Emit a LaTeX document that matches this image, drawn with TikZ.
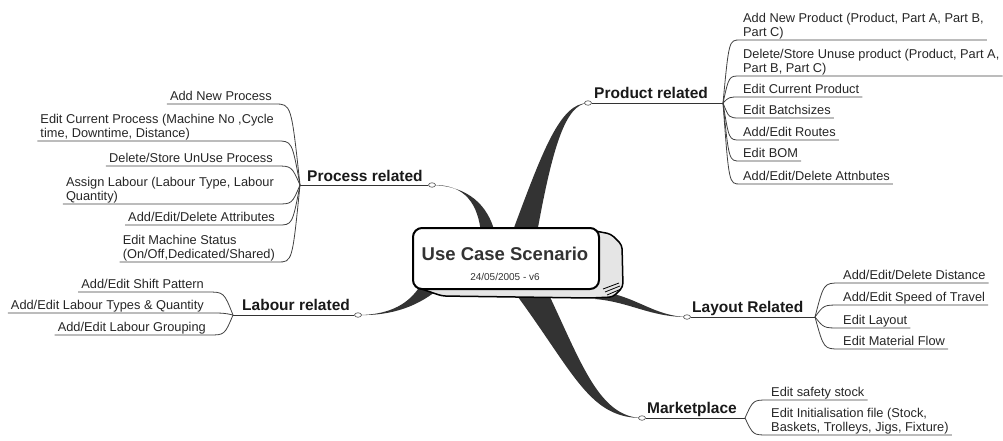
\documentclass[tikz,border=0pt]{standalone}
\usepackage{fontspec}
\setmainfont{Liberation Sans}
\usetikzlibrary{calc,backgrounds,shapes.geometric}

\tikzset{
    leaf/.style={font=\fontsize{12.8}{14.5}\selectfont, text=black!85, inner xsep=3pt, inner ysep=0pt,
        align=left, execute at end node={\rule[-3pt]{0pt}{3pt}}},
    branch/.style={font=\bfseries\fontsize{15.5}{18}\selectfont, text=black!90, inner sep=0pt, anchor=base west},
    twig/.style={draw=black!75, line width=0.8pt},
    stem/.style={draw=black!80, line width=1pt},
    knob/.style={ellipse, draw=black!70, fill=white, line width=0.6pt, minimum width=7pt,
        minimum height=4.5pt, inner sep=0pt},
    trunk/.style={fill=black!80},
}

\begin{document}
\begin{tikzpicture}[x=1pt, y=-1pt]
    \useasboundingbox (0,0) rectangle (1003,440);

    \node[draw, line width=2pt, rounded corners=9pt, fill=white, minimum width=186pt, minimum height=61pt] (hub) at (506,258.5) {};
    \node[font=\bfseries\fontsize{18.5}{20}\selectfont, text=black!80] (title) at (505,254) {Use Case Scenario};
    \node[font=\fontsize{10}{12}\selectfont, text=black!80] (date) at (505,277) {24/05/2005 - v6};

    % process
    \coordinate (procjoin) at (300,185);
    \node[knob] (procknob) at (432,185) {};
    \node[branch] (proc) at (307,181) {Process related};
    \draw[stem] (procjoin) -- (procknob);

    \node[leaf, anchor=south east] (q1) at (275,104) {Add New Process};
    \node[leaf, anchor=south east] (q2) at (277,141) {Edit Current Process (Machine No ,Cycle\\time, Downtime, Distance)};
    \node[leaf, anchor=south east] (q3) at (276,166) {Delete/Store UnUse Process};
    \node[leaf, anchor=south east] (q4) at (277,204) {Assign Labour (Labour Type, Labour\\Quantity)};
    \node[leaf, anchor=south east] (q5) at (278,225) {Add/Edit/Delete Attributes};
    \node[leaf, anchor=south east] (q6) at (278,262) {Edit Machine Status\\(On/Off,Dedicated/Shared)};
    \foreach \n in {1,...,6}
        \draw[twig] (procjoin) .. controls ($(procjoin |- q\n.south east)!0.35!(q\n.south east)$) .. (q\n.south east) -- (q\n.south west);

    % product
    \coordinate (prodjoin) at (723,103);
    \node[knob] (prodknob) at (588,103) {};
    \node[branch] (prod) at (594,98) {Product related};
    \draw[stem] (prodknob) -- (prodjoin);

    \node[leaf, anchor=south west] (p1) at (740,40) {Add New Product (Product, Part A, Part B,\\Part C)};
    \node[leaf, anchor=south west] (p2) at (740,76) {Delete/Store Unuse product (Product, Part A,\\Part B, Part C)};
    \node[leaf, anchor=south west] (p3) at (740,97) {Edit Current Product};
    \node[leaf, anchor=south west] (p4) at (740,118) {Edit Batchsizes};
    \node[leaf, anchor=south west] (p5) at (740,140) {Add/Edit Routes};
    \node[leaf, anchor=south west] (p6) at (740,161) {Edit BOM};
    \node[leaf, anchor=south west] (p7) at (740,184) {Add/Edit/Delete Attnbutes};
    \foreach \n in {1,...,7}
        \draw[twig] (prodjoin) .. controls ($(prodjoin |- p\n.south west)!0.35!(p\n.south west)$) .. (p\n.south west) -- (p\n.south east);

    % labour
    \coordinate (labjoin) at (233,315);
    \node[knob] (labknob) at (358,315) {};
    \node[branch] (lab) at (242,310) {Labour related};
    \draw[stem] (labjoin) -- (labknob);

    \node[leaf, anchor=south east] (l1) at (207,292) {Add/Edit Shift Pattern};
    \node[leaf, anchor=south east] (l2) at (207,313) {Add/Edit Labour Types \& Quantity};
    \node[leaf, anchor=south east] (l3) at (209,335) {Add/Edit Labour Grouping};
    \foreach \n in {1,...,3}
        \draw[twig] (labjoin) .. controls ($(labjoin |- l\n.south east)!0.35!(l\n.south east)$) .. (l\n.south east) -- (l\n.south west);

    % layout
    \coordinate (layjoin) at (815,317);
    \node[knob] (layknob) at (687,317) {};
    \node[branch] (lay) at (692,312) {Layout Related};
    \draw[stem] (layknob) -- (layjoin);

    \node[leaf, anchor=south west] (y1) at (840,283) {Add/Edit/Delete Distance};
    \node[leaf, anchor=south west] (y2) at (840,305) {Add/Edit Speed of Travel};
    \node[leaf, anchor=south west] (y3) at (840,328) {Edit Layout};
    \node[leaf, anchor=south west] (y4) at (840,349) {Edit Material Flow};
    \foreach \n in {1,...,4}
        \draw[twig] (layjoin) .. controls ($(layjoin |- y\n.south west)!0.35!(y\n.south west)$) .. (y\n.south west) -- (y\n.south east);

    % marketplace
    \coordinate (mktjoin) at (745,418);
    \node[knob] (mktknob) at (642,418) {};
    \node[branch] (mkt) at (647,413) {Marketplace};
    \draw[stem] (mktknob) -- (mktjoin);

    \node[leaf, anchor=south west] (m1) at (768,400) {Edit safety stock};
    \node[leaf, anchor=south west] (m2) at (768,435) {Edit Initialisation file (Stock,\\Baskets, Trolleys, Jigs, Fixture)};
    \foreach \n in {1,2}
        \draw[twig] (mktjoin) .. controls ($(mktjoin |- m\n.south west)!0.35!(m\n.south west)$) .. (m\n.south west) -- (m\n.south east);

    % tapered trunks and the box side, behind the hub
    \begin{scope}[on background layer]
        \fill[trunk] (procknob.center) .. controls (466,184) and (478,205) .. ([xshift=-25pt,yshift=-6pt]hub.north)
            -- ([xshift=-11pt,yshift=-6pt]hub.north) .. controls (488,205) and (468,186) .. (procknob.center) -- cycle;
        \fill[trunk] (prodknob.center) .. controls (560,103) and (543,150) .. ([xshift=6pt,yshift=-6pt]hub.north)
            -- ([xshift=31pt,yshift=-6pt]hub.north) .. controls (552,150) and (565,104) .. (prodknob.center) -- cycle;
        \fill[trunk] (labknob.center) .. controls (392,315) and (410,302) .. ([xshift=8pt,yshift=4pt]hub.south west)
            -- ([xshift=30pt,yshift=4pt]hub.south west) .. controls (420,306) and (392,316) .. (labknob.center) -- cycle;
        \fill[trunk] (layknob.center) .. controls (650,317) and (630,302) .. ([xshift=-5pt,yshift=-9pt]hub.south east)
            -- ([xshift=5pt,yshift=-2pt]hub.south east) .. controls (638,298) and (655,316) .. (layknob.center) -- cycle;
        \fill[trunk] (mktknob.center) .. controls (590,418) and (575,375) .. ([xshift=12pt,yshift=-7pt]hub.south)
            -- ([xshift=44pt,yshift=-7pt]hub.south) .. controls (582,365) and (600,417) .. (mktknob.center) -- cycle;

        \draw[line width=1.5pt, fill=gray!20, rounded corners=4pt] (585,229) -- (611,234) -- (622,245) -- (623,287)
            -- (613,297) -- (590,298) -- (442,296) -- (416,287);
        \draw[line width=0.8pt] (603,289) -- (619,283) (605,292) -- (620,286) (607,295) -- (621,289);
    \end{scope}
\end{tikzpicture}
\end{document}
